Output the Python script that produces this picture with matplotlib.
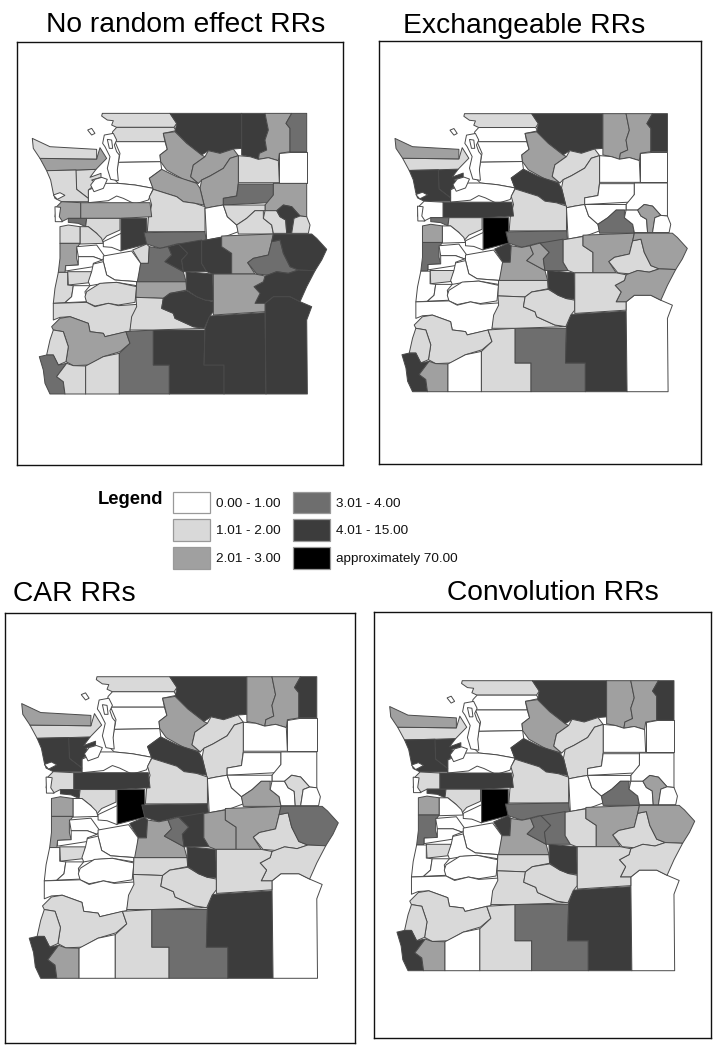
import matplotlib
matplotlib.use("Agg")
import matplotlib.pyplot as plt
from matplotlib.patches import Rectangle

plt.rcParams['font.family'] = ['Liberation Sans', 'DejaVu Sans']
W, H = 718, 1050

# county outlines (map units)
shapes = [
 [(247,70),(450,70),(470,100),(462,112),(290,112),(275,105),(280,92),(262,90),(245,78)],
 [(290,112),(462,112),(468,122),(430,130),(435,155),(285,155),(275,140),(278,125)],
 [(285,155),(435,155),(442,178),(420,195),(422,215),(295,217),(300,190)],
 [(295,217),(422,215),(425,238),(388,265),(400,295),(345,285),(295,280),(285,270)],
 [(205,300),(255,280),(295,280),(345,285),(400,295),(385,330),(345,342),(310,325),(290,318),(265,332),(205,338)],
 [(450,70),(665,70),(665,175),(640,177),(600,190),(565,182),(545,195),(500,160),(465,125),(470,100)],
 [(665,70),(735,70),(745,120),(735,150),(740,180),(718,190),(715,208),(690,200),(665,195)],
 [(735,70),(815,70),(798,100),(810,115),(810,185),(778,190),(775,212),(745,203),(715,208),(718,190),(740,180),(735,150),(745,120)],
 [(815,70),(860,70),(860,185),(810,185),(810,115),(798,100)],
 [(810,185),(860,185),(860,278),(778,278),(778,190)],
 [(655,197),(690,200),(715,208),(745,203),(775,212),(778,278),(655,278)],
 [(465,125),(500,160),(545,195),(555,200),(520,225),(512,260),(535,280),(490,268),(440,240),(422,215),(420,195),(442,178),(430,130)],
 [(555,200),(565,182),(600,190),(640,177),(655,197),(630,205),(610,235),(570,258),(545,270),(535,280),(512,260),(520,225)],
 [(655,197),(655,278),(650,318),(610,325),(610,345),(580,350),(555,355),(540,295),(545,270),(570,258),(610,235),(630,205)],
 [(655,282),(760,282),(760,315),(745,338),(610,345),(610,325),(650,318)],
 [(760,280),(860,280),(860,380),(840,378),(815,350),(790,345),(770,362),(735,362),(735,345),(760,315)],
 [(425,238),(470,260),(530,280),(540,295),(552,345),(525,340),(490,335),(470,320),(400,298),(388,265)],
 [(400,298),(470,320),(490,335),(525,340),(555,350),(555,425),(382,425),(385,385),(395,345),(388,320)],
 [(555,355),(580,350),(610,345),(622,380),(650,405),(655,425),(620,438),(560,450)],
 [(610,345),(735,345),(735,362),(705,362),(680,385),(650,405),(622,380)],
 [(650,405),(680,385),(705,362),(730,362),(730,385),(755,405),(760,432),(655,432)],
 [(735,362),(770,362),(780,380),(797,390),(800,430),(760,430),(755,405),(730,385)],
 [(770,362),(790,345),(815,350),(840,378),(822,385),(815,430),(800,430),(797,390),(780,380)],
 [(822,385),(840,378),(860,380),(870,405),(865,430),(815,430)],
 [(182,338),(390,338),(395,380),(300,385),(215,385),(200,385),(145,385),(182,385)],
 [(167,240),(228,238),(210,262),(243,250),(243,262),(215,270),(230,280),(205,300),(205,325),(170,298)],
 [(60,205),(230,207),(240,173),(260,205),(228,238),(168,240),(80,242)],
 [(37,145),(90,170),(230,178),(230,207),(60,205),(40,175)],
 [(80,242),(168,240),(170,298),(205,325),(205,335),(125,335),(105,325),(100,310),(92,270)],
 [(125,335),(182,338),(182,385),(145,385),(125,395),(105,380),(110,350)],
 [(145,385),(200,385),(197,410),(175,400),(145,397)],
 [(215,385),(300,385),(300,420),(260,438),(245,455),(230,430),(205,410),(197,410),(200,385)],
 [(303,385),(380,385),(380,462),(303,482)],
 [(180,410),(205,410),(230,430),(245,445),(250,460),(180,462)],
 [(120,410),(145,405),(180,410),(180,460),(120,460)],
 [(250,455),(303,430),(303,483),(275,472),(250,470)],
 [(372,428),(555,425),(558,450),(500,462),(470,462),(420,475),(380,462)],
 [(338,480),(380,462),(388,470),(385,520),(362,520)],
 [(120,460),(180,460),(170,475),(170,505),(175,525),(137,527),(135,547),(115,547),(120,505)],
 [(170,470),(230,465),(255,500),(247,510),(220,500),(175,500)],
 [(175,500),(220,500),(247,510),(220,520),(220,530),(137,543),(137,527),(175,525)],
 [(250,498),(335,483),(362,520),(360,540),(355,575),(285,570),(260,555),(250,515)],
 [(143,545),(215,545),(208,578),(145,585)],
 [(250,515),(260,555),(285,570),(350,575),(350,587),(290,577),(250,580),(210,587),(205,575),(215,545),(220,522)],
 [(115,547),(143,547),(143,585),(160,587),(155,620),(135,638),(100,640),(105,595)],
 [(160,587),(210,587),(195,605),(200,635),(135,638),(155,620)],
 [(200,605),(240,580),(290,577),(350,590),(345,637),(295,645),(265,640),(225,648),(200,637),(195,620)],
 [(100,640),(200,637),(225,650),(265,640),(295,647),(352,643),(350,670),(335,695),(330,723),(255,740),(250,730),(210,725),(205,700),(150,680),(120,682),(100,690)],
 [(95,710),(120,685),(150,680),(205,700),(210,725),(250,730),(255,740),(318,725),(330,760),(300,785),(250,800),(205,825),(160,827),(138,815),(145,770),(130,725),(100,720)],
 [(100,720),(130,725),(145,770),(138,815),(115,825),(100,795),(80,795),(90,750)],
 [(58,800),(80,795),(100,795),(115,825),(140,820),(110,860),(130,875),(135,912),(90,912),(75,880),(70,840)],
 [(110,860),(140,820),(160,827),(197,828),(197,912),(135,912),(130,875)],
 [(197,828),(250,800),(298,790),(298,912),(197,912)],
 [(318,725),(400,720),(400,825),(448,825),(448,912),(298,912),(298,790),(330,760)],
 [(400,720),(555,720),(552,825),(612,825),(612,912),(448,912),(448,825),(400,825)],
 [(555,715),(568,678),(735,668),(738,912),(612,912),(612,825),(552,825)],
 [(735,640),(760,620),(810,620),(840,635),(875,650),(860,690),(862,912),(738,912)],
 [(350,575),(498,575),(500,600),(450,610),(430,625),(348,622)],
 [(348,622),(430,625),(425,655),(460,670),(465,685),(520,710),(553,715),(400,720),(330,720),(335,680),(350,650)],
 [(430,625),(450,610),(500,602),(530,620),(555,630),(580,635),(580,665),(568,680),(553,715),(520,710),(465,685),(460,670),(425,655)],
 [(498,545),(578,552),(580,632),(555,630),(530,620),(500,600)],
 [(388,470),(420,475),(445,470),(455,495),(435,515),(490,545),(498,575),(352,575),(362,520),(385,520)],
 [(445,470),(475,462),(503,490),(485,510),(490,545),(435,515),(455,495)],
 [(475,462),(545,450),(545,520),(560,545),(490,545),(485,510),(503,490)],
 [(545,452),(605,442),(605,470),(635,490),(635,552),(578,552),(560,545),(545,520)],
 [(605,438),(760,432),(755,455),(745,495),(700,505),(683,518),(705,552),(635,552),(635,490),(605,470)],
 [(683,518),(700,505),(745,495),(755,455),(780,450),(790,490),(810,530),(835,540),(805,550),(770,545),(745,555),(710,552)],
 [(760,432),(875,432),(890,445),(920,478),(905,510),(885,542),(835,540),(810,530),(790,490),(780,450),(755,455)],
 [(735,558),(770,545),(805,550),(835,540),(885,542),(860,590),(840,635),(810,620),(760,620),(735,640),(705,640),(720,610),(702,590),(730,575)],
 [(580,552),(705,552),(735,558),(730,575),(702,590),(720,610),(705,640),(735,640),(735,665),(580,675)],
]

# risk-ratio class of each county, one list per panel
no_random = [1,1,0,0,0,4,4,2,3,0,1,2,2,2,3,2,2,1,0,1,1,1,4,1,2,1,2,1,1,2,3,1,4,1,1,0,3,1,2,0,0,0,1,0,1,0,1,1,2,1,3,1,1,3,4,4,4,2,1,4,4,3,4,4,4,2,3,4,4,2]
exchangeable = [1,0,0,0,0,4,2,2,4,0,0,2,1,1,0,0,4,1,0,0,3,0,2,0,4,4,1,2,4,0,3,1,5,0,2,0,3,4,3,0,0,0,1,0,0,0,0,0,1,1,4,2,0,1,3,4,0,1,1,1,4,2,2,3,1,2,1,2,2,1]
car = [1,0,0,0,0,4,2,2,4,0,0,2,1,1,0,0,4,1,0,0,2,0,1,0,4,4,1,2,4,1,4,1,5,0,2,0,4,4,2,0,0,0,1,0,0,0,0,0,1,1,4,2,0,1,3,4,0,1,1,1,4,2,3,4,2,2,1,3,1,1]
convolution = [1,0,0,0,0,4,2,2,4,0,0,2,1,1,0,0,4,1,0,0,3,0,2,0,4,4,1,2,4,1,4,1,5,0,2,0,3,4,3,0,0,0,1,0,0,0,0,0,1,1,4,2,0,1,3,4,0,1,1,1,4,2,3,3,1,2,1,2,1,1]

# Puget Sound and coastal water / islands (always white)
water = [
 [(203,120),(215,115),(225,130),(215,135)],
 [(253,135),(280,130),(290,150),(283,165),(290,185),(298,195),(292,240),(295,272),(272,268),(262,235),(270,200),(255,170),(248,160)],
 [(262,148),(275,150),(278,175),(268,175)],
 [(225,268),(245,262),(262,268),(250,295),(222,305),(212,285)],
 [(100,315),(120,308),(135,316),(112,328)],
 [(105,350),(122,352),(118,380),(128,395),(106,395)],
]

gray_levels = ['#ffffff', '#d9d9d9', '#a0a0a0', '#6e6e6e', '#3c3c3c', '#000000']
legend_labels = ['0.00 - 1.00', '1.01 - 2.00', '2.01 - 3.00', '3.01 - 4.00', '4.01 - 15.00', 'approximately 70.00']
titles = ['No random effect RRs', 'Exchangeable RRs', 'CAR RRs', 'Convolution RRs']
panel_values = [no_random, exchangeable, car, convolution]

# frame px (l, t, r, b), map extent px (l, t, r, b)
frames = [(17,42,343,465), (379,41,701,464), (5,613,355,1043), (374,612,711,1038)]
extents = [(32.3,112.7,326.7,394), (395,113,687.3,391.7), (21.7,676,338.3,978.3), (389.7,680,694.7,970.7)]
title_pos = [(186,25), (524,26), (74,594), (553,593)]
MAP_X = (37, 920)
MAP_Y = (68, 912)

fig = plt.figure(figsize=(W/100, H/100), dpi=100, facecolor='white')

for frame, ext, vals, title, tp in zip(frames, extents, panel_values, titles, title_pos):
    l, t, r, b = frame
    ax = fig.add_axes([l/W, 1-b/H, (r-l)/W, (b-t)/H])
    sx = (ext[2]-ext[0])/(MAP_X[1]-MAP_X[0])
    sy = (ext[3]-ext[1])/(MAP_Y[1]-MAP_Y[0])
    ax.set_xlim(MAP_X[0]+(l-ext[0])/sx, MAP_X[0]+(r-ext[0])/sx)
    ax.set_ylim(MAP_Y[0]+(b-ext[1])/sy, MAP_Y[0]+(t-ext[1])/sy)
    ax.set_xticks([]); ax.set_yticks([])
    for s in ax.spines.values():
        s.set_linewidth(1.0); s.set_color('#111111')
    for poly, v in zip(shapes, vals):
        ax.fill(*zip(*poly), facecolor=gray_levels[v], edgecolor='#4a4a4a', linewidth=0.7, joinstyle='round')
    for poly in water:
        ax.fill(*zip(*poly), facecolor='white', edgecolor='#4a4a4a', linewidth=0.7)
    fig.text(tp[0]/W, 1-tp[1]/H, title, fontsize=20.3, ha='center', va='center', color='black')

# legend
leg = fig.add_axes([0, 0, 1, 1], facecolor='none')
leg.set_xlim(0, W); leg.set_ylim(H, 0); leg.axis('off')
leg.text(98, 500, 'Legend', fontsize=13.2, fontweight='bold', va='center', ha='left')
rows = [(492,20.5), (519,21.5), (547,21.5)]
cols = [(172.5,37,216), (292.5,37,336)]
for i, (c, lab) in enumerate(zip(gray_levels, legend_labels)):
    cx, cw, tx = cols[i//3]
    ry, rh = rows[i%3]
    leg.add_patch(Rectangle((cx, ry), cw, rh, facecolor=c, edgecolor='#999999', linewidth=0.9))
    leg.text(tx, ry+rh/2+1.5, lab, fontsize=9.7, va='center', ha='left', color='#111111')

fig.savefig('out.png', dpi=100)
